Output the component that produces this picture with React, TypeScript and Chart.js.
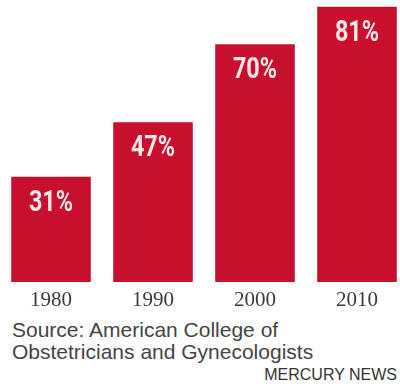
import React, { useEffect, useRef } from "react";
import { Chart, registerables } from "chart.js";

Chart.register(...registerables);

const years = ["1980", "1990", "2000", "2010"];
const shares = [31, 47, 70, 81];
const valueLabels = ["31%", "47%", "70%", "81%"];
const sourceLines = ["Source: American College of", "Obstetricians and Gynecologists"];
const credit = "MERCURY NEWS";

const BAR_RED = "#c8102e";

const insideLabels = {
  id: "insideLabels",
  afterDatasetsDraw(chart: any) {
    const ctx = chart.ctx;
    const meta = chart.getDatasetMeta(0);
    ctx.save();
    ctx.fillStyle = "#fbe6e8";
    ctx.font = 'bold 30px Roboto, "DejaVu Sans", sans-serif';
    ctx.textAlign = "center";
    ctx.textBaseline = "alphabetic";
    meta.data.forEach((bar: any, i: number) => {
      ctx.save();
      ctx.translate(bar.x, bar.y + 34);
      ctx.scale(0.78, 1);
      ctx.fillText(valueLabels[i], 0, 0);
      ctx.restore();
    });
    ctx.restore();
  },
};

export default function App() {
  const canvasRef = useRef<HTMLCanvasElement | null>(null);

  useEffect(() => {
    document.body.style.margin = "0";
    const chart = new Chart(canvasRef.current as HTMLCanvasElement, {
      type: "bar",
      data: {
        labels: years,
        datasets: [
          {
            data: shares,
            backgroundColor: BAR_RED,
            borderWidth: 0,
            categoryPercentage: 1,
            barPercentage: 0.78,
          },
        ],
      },
      options: {
        animation: false,
        responsive: false,
        maintainAspectRatio: false,
        layout: { padding: 0 },
        plugins: {
          legend: { display: false },
          tooltip: { enabled: false },
        },
        scales: {
          y: { display: false, min: 0, max: 83 },
          x: {
            grid: { display: false, drawTicks: false, tickLength: 0 },
            border: { display: false },
            ticks: {
              color: "#3a3a3a",
              padding: 6,
              font: { family: '"Liberation Serif", serif', size: 21 },
            },
            afterFit(scale: any) {
              scale.height = 30;
            },
          },
        },
      },
      plugins: [insideLabels],
    });
    return () => chart.destroy();
  }, []);

  return (
    <div style={{ width: 400, height: 388, overflow: "hidden", position: "relative", background: "#fff" }}>
      <canvas ref={canvasRef} width={408} height={312} style={{ display: "block" }} />
      <div
        style={{
          marginTop: 7,
          paddingLeft: 12,
          fontFamily: '"Liberation Sans", Arial, sans-serif',
          fontSize: 21,
          lineHeight: "22px",
          color: "#444",
          whiteSpace: "nowrap",
        }}
      >
        {sourceLines.map((l) => (
          <div key={l}>{l}</div>
        ))}
      </div>
      <div
        style={{
          marginTop: 3,
          paddingRight: 3,
          textAlign: "right",
          fontFamily: '"Liberation Sans", Arial, sans-serif',
          fontSize: 16,
          lineHeight: "18px",
          color: "#333",
        }}
      >
        {credit}
      </div>
    </div>
  );
}
